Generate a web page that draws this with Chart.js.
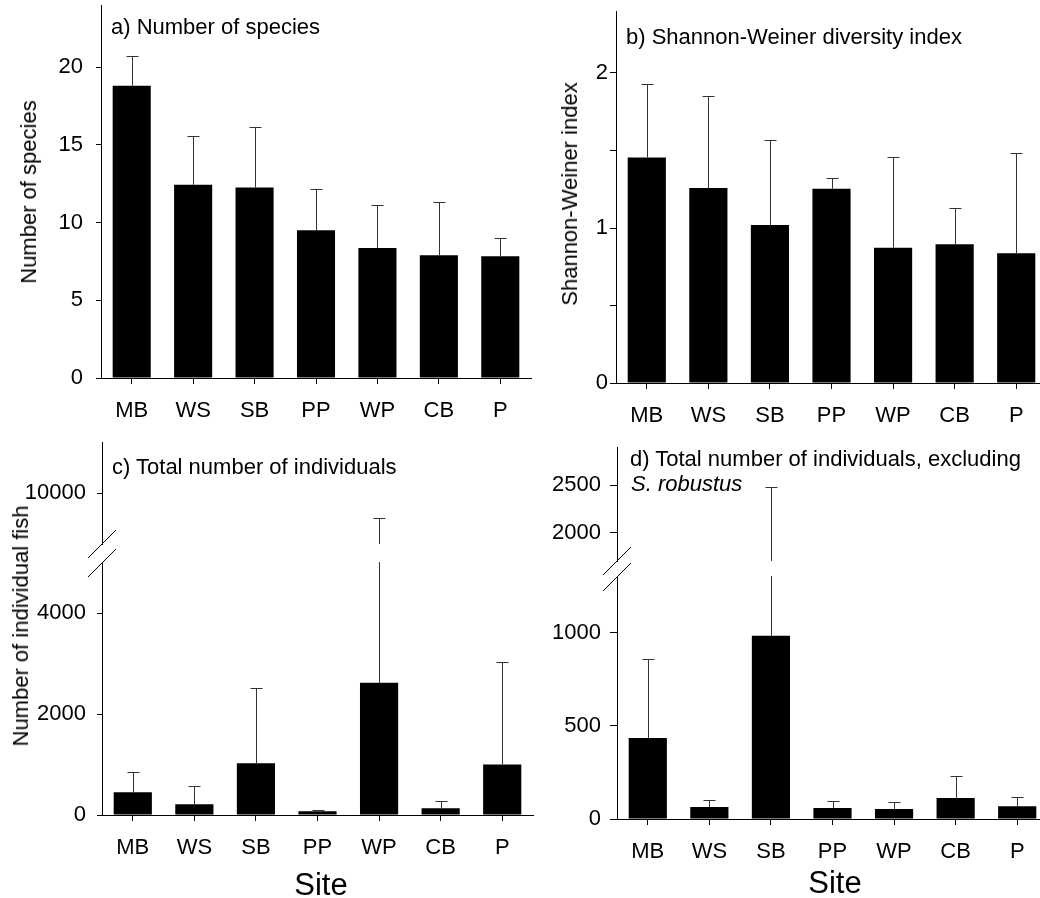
<!DOCTYPE html>
<html lang="en">
<head>
    <meta charset="UTF-8">
    <title>Fish assemblages by site</title>
    <script src="https://cdn.jsdelivr.net/npm/chart.js"></script>
    <style>
        html, body { margin: 0; padding: 0; background: #fff; }
        body { width: 1040px; height: 898px; position: relative; overflow: hidden; font-family: 'Liberation Sans', Arial, sans-serif; color: #000; }
        canvas { position: absolute; }
        .txt { position: absolute; font-size: 22px; line-height: 22px; white-space: nowrap; }
        .rot { position: absolute; font-size: 22px; line-height: 22px; white-space: nowrap; transform: translate(-50%, -50%) rotate(-90deg); }
        .site { position: absolute; font-size: 31px; line-height: 31px; transform: translateX(-50%); }
    </style>
</head>
<body>
<script>
// sites on the x axis
const sites = ['MB', 'WS', 'SB', 'PP', 'WP', 'CB', 'P'];

// a) number of species (mean and +1 SE)
const speciesMean = [18.8, 12.43, 12.26, 9.5, 8.37, 7.9, 7.83];
const speciesErr  = [1.95, 3.17, 3.87, 2.65, 2.75, 3.41, 1.17];
const speciesTicks = [0, 5, 10, 15, 20];

// b) Shannon-Weiner index
const shannonMean = [1.455, 1.258, 1.019, 1.253, 0.873, 0.895, 0.837];
const shannonErr  = [0.472, 0.594, 0.548, 0.071, 0.582, 0.236, 0.646];
const shannonTicks = [0, 0.5, 1, 1.5, 2];

// c) total number of individuals (broken axis)
const totalMean = [451, 213, 1027, 73, 2622, 133, 1001];
const totalErr  = [411, 371, 1496, 26, 6893, 145, 2026];
const totalTicksLow = [0, 2000, 4000];
const totalTicksHigh = [10000];

// d) total excluding S. robustus (broken axis)
const exclMean = [435, 64, 984, 59, 54, 113, 68];
const exclErr  = [425, 40, 1498, 36, 35, 120, 48];
const exclTicksLow = [0, 500, 1000];
const exclTicksHigh = [2000, 2500];

Chart.defaults.font.family = "'Liberation Sans', Arial, sans-serif";
Chart.defaults.font.size = 22;
Chart.defaults.color = '#000';

// upper error bars, clipped to the chart area so they work on broken axes
const errorBars = {
  id: 'errorBars',
  afterDatasetsDraw(chart, args, opts) {
    const err = opts.values;
    if (!err) return;
    const ctx = chart.ctx, area = chart.chartArea, y = chart.scales.y;
    const data = chart.data.datasets[0].data;
    ctx.save();
    ctx.beginPath();
    ctx.rect(area.left, area.top - 1, area.right - area.left, area.bottom - area.top + 1);
    ctx.clip();
    ctx.strokeStyle = '#333';
    ctx.lineWidth = 1;
    chart.getDatasetMeta(0).data.forEach((bar, i) => {
      const x = Math.round(bar.x) + 0.5;
      const yTop = Math.round(y.getPixelForValue(data[i] + err[i])) + 0.5;
      const yBase = y.getPixelForValue(data[i]);
      ctx.beginPath();
      ctx.moveTo(x, yBase);
      ctx.lineTo(x, yTop);
      ctx.moveTo(x - 6, yTop);
      ctx.lineTo(x + 6, yTop);
      ctx.stroke();
    });
    ctx.restore();
  }
};

// the // marks where an axis is broken
const breakMark = {
  id: 'breakMark',
  afterDraw(chart, args, opts) {
    if (!opts.at) return;
    const ctx = chart.ctx, area = chart.chartArea;
    const x = area.left, y = opts.at === 'top' ? area.top : area.bottom;
    ctx.save();
    ctx.strokeStyle = '#000';
    ctx.lineWidth = 1;
    ctx.beginPath();
    ctx.moveTo(x - 14, y + 14);
    ctx.lineTo(x + 14, y - 14);
    ctx.stroke();
    ctx.restore();
  }
};

// canvas margins around each plot area (top one must beat tick label padding)
const ML = 80, MR = 12, MT = 40, MB = 60;

function panel(box, mean, err, ticks, yOpt) {
  const c = document.createElement('canvas');
  const W = box.right - box.left + ML + MR;
  const H = box.bottom - box.top + MT + MB;
  c.width = W; c.height = H;
  c.style.left = (box.left - ML) + 'px';
  c.style.top = (box.top - MT) + 'px';
  document.body.appendChild(c);
  const showX = !yOpt.upper;
  new Chart(c, {
    type: 'bar',
    data: {
      labels: sites,
      datasets: [{
        data: mean,
        backgroundColor: '#000',
        borderWidth: 0,
        barPercentage: 0.62,
        categoryPercentage: 1
      }]
    },
    options: {
      responsive: false,
      animation: false,
      events: [],
      layout: { padding: { left: 0, right: MR, top: MT, bottom: showX ? 0 : MB } },
      plugins: {
        legend: { display: false },
        tooltip: { enabled: false },
        errorBars: { values: err },
        breakMark: { at: yOpt.breakAt }
      },
      scales: {
        x: {
          display: showX,
          offset: true,
          grid: { drawOnChartArea: false, offset: false, tickLength: 6, color: '#000' },
          border: { color: '#000' },
          ticks: { padding: 14, maxRotation: 0, autoSkip: false },
          afterFit: s => { if (showX) s.height = MB; }
        },
        y: {
          min: yOpt.min,
          max: yOpt.max,
          grid: { drawOnChartArea: false, tickLength: yOpt.tick, color: '#000' },
          border: { color: '#000' },
          ticks: {
            padding: yOpt.pad,
            callback: v => (yOpt.label ? yOpt.label(v) : v)
          },
          afterBuildTicks: s => { s.ticks = ticks.map(v => ({ value: v })); },
          afterFit: s => { s.width = ML; }
        }
      }
    },
    plugins: [errorBars, breakMark]
  });
}

// a
panel({ left: 101, right: 531, top: 5, bottom: 378 }, speciesMean, speciesErr, speciesTicks,
  { min: 0, max: 24, tick: 5, pad: 13 });
// b
panel({ left: 616, right: 1047, top: 11, bottom: 383 }, shannonMean, shannonErr, shannonTicks,
  { min: 0, max: 2.4, tick: 6, pad: 2, label: v => (Number.isInteger(v) ? v : '') });
// c
panel({ left: 102, right: 533, top: 442, bottom: 544 }, totalMean, totalErr, totalTicksHigh,
  { min: 9000, max: 11000, tick: 5, pad: 11, upper: true, breakAt: 'bottom' });
panel({ left: 102, right: 533, top: 563, bottom: 815 }, totalMean, totalErr, totalTicksLow,
  { min: 0, max: 5000, tick: 5, pad: 11, breakAt: 'top' });
// d
panel({ left: 617, right: 1048, top: 447, bottom: 561 }, exclMean, exclErr, exclTicksHigh,
  { min: 1700, max: 2900, tick: 7, pad: 9, upper: true, breakAt: 'bottom' });
panel({ left: 617, right: 1048, top: 577, bottom: 819 }, exclMean, exclErr, exclTicksLow,
  { min: 0, max: 1300, tick: 7, pad: 9, breakAt: 'top' });

// text: panel labels, axis titles
function text(cls, html, x, y) {
  const d = document.createElement('div');
  d.className = cls;
  d.innerHTML = html;
  d.style.left = x + 'px';
  d.style.top = y + 'px';
  document.body.appendChild(d);
}
const base = 0.8465 * 22; // baseline offset inside a 22px line
text('txt', 'a) Number of species', 111, 34.5 - base);
text('txt', 'b) Shannon-Weiner diversity index', 626, 44.5 - base);
text('txt', 'c) Total number of individuals', 112, 475 - base);
text('txt', 'd) Total number of individuals, excluding', 630, 466.5 - base);
text('txt', '<i>S. robustus</i>', 631, 491.5 - base);
text('rot', 'Number of species', 29, 191.5);
text('rot', 'Shannon-Weiner index', 570, 194);
text('rot', 'Number of individual fish', 21, 626);
text('site', 'Site', 321, 895 - 0.8465 * 31);
text('site', 'Site', 835, 893.5 - 0.8465 * 31);
</script>
</body>
</html>
